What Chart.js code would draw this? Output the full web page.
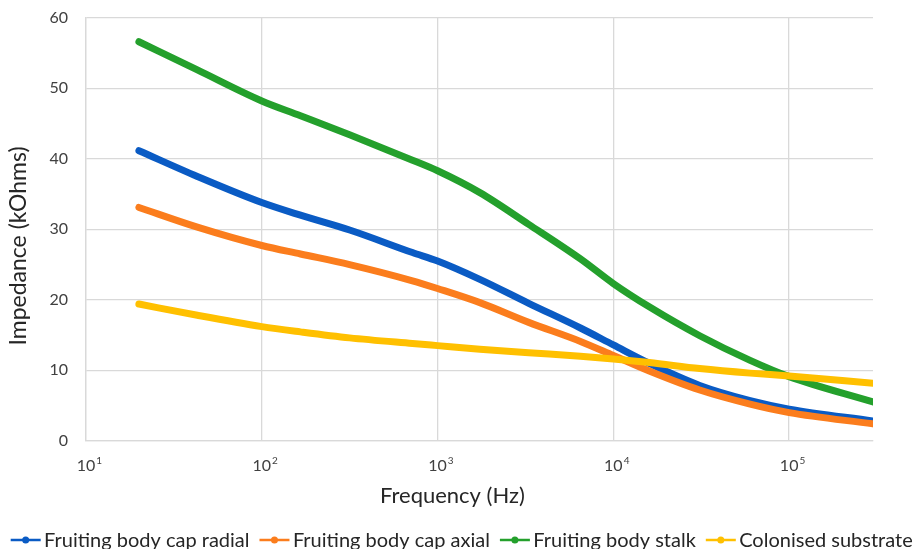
<!DOCTYPE html>
<html>
<head>
<meta charset="utf-8">
<script src="https://cdn.jsdelivr.net/npm/chart.js@4/dist/chart.umd.min.js"></script>
<style>
  html, body { margin: 0; padding: 0; background: #ffffff; }
  #wrap { width: 913px; height: 549px; }
</style>
</head>
<body>
<div id="wrap"><canvas id="chart" width="913" height="549"></canvas></div>
<script>
// Measured impedance spectra (kOhms) against excitation frequency (Hz)
const frequencyHz = [20, 43, 100, 166, 316, 720, 1000, 1740, 3300, 6500, 10000, 16000, 31000, 60000, 100000, 300000];
const capRadial   = [41.15, 37.5, 33.8, 32.0, 29.9, 26.7, 25.5, 22.9, 19.5, 16.0, 13.6, 11.0, 7.85, 5.7, 4.5, 2.8];
const capAxial    = [33.1, 30.3, 27.7, 26.5, 25.0, 22.7, 21.6, 19.6, 16.8, 14.1, 12.1, 9.9, 7.2, 5.2, 4.0, 2.4];
const stalk       = [56.6, 52.6, 48.2, 46.1, 43.4, 39.8, 38.3, 35.2, 30.7, 25.8, 22.3, 19.0, 14.9, 11.4, 9.1, 5.5];
const substrate   = [19.4, 17.8, 16.2, 15.45, 14.6, 13.8, 13.5, 13.0, 12.5, 12.0, 11.6, 11.1, 10.25, 9.6, 9.2, 8.15];

const seriesNames  = ['Fruiting body cap radial', 'Fruiting body cap axial', 'Fruiting body stalk', 'Colonised substrate'];
const seriesValues = [capRadial, capAxial, stalk, substrate];
const seriesColors = ['#0a5bc4', '#fb7d1d', '#24a02c', '#ffc000'];

const yTicks = [0, 10, 20, 30, 40, 50, 60];
const xTickExponents = [1, 2, 3, 4, 5];
const xAxisTitle = 'Frequency (Hz)';
const yAxisTitle = 'Impedance (kOhms)';

const FONT = 'Lato, "Open Sans", sans-serif';
const GRID = '#d9d9d9';
const TEXT = '#262626';

const datasets = seriesValues.map((vals, i) => ({
  label: seriesNames[i],
  data: frequencyHz.map((f, j) => ({ x: f, y: vals[j] })),
  borderColor: seriesColors[i],
  backgroundColor: seriesColors[i],
  borderWidth: 7,
  borderCapStyle: 'round',
  borderJoinStyle: 'round',
  pointRadius: 0,
  cubicInterpolationMode: 'monotone',
  fill: false,
  // later series are painted on top
  order: seriesValues.length - i
}));

// Axis titles, power-of-ten tick labels and the legend row
const decorations = {
  id: 'decorations',
  afterDraw(chart) {
    const ctx = chart.ctx;
    const xs = chart.scales.x;
    const area = chart.chartArea;
    ctx.save();

    // x tick labels: "10" with a raised exponent
    ctx.fillStyle = '#404040';
    ctx.textBaseline = 'alphabetic';
    ctx.textAlign = 'left';
    xTickExponents.forEach(e => {
      const px = xs.getPixelForValue(Math.pow(10, e));
      ctx.font = '16px ' + FONT;
      const w = ctx.measureText('10').width;
      ctx.fillText('10', px - w / 2, area.bottom + 30);
      ctx.font = '10px ' + FONT;
      ctx.fillText(String(e), px + w / 2 + 1, area.bottom + 23.5);
    });

    // axis titles
    ctx.fillStyle = TEXT;
    ctx.textAlign = 'center';
    ctx.font = '22px ' + FONT;
    ctx.fillText(xAxisTitle, 452.4, 503.3);

    ctx.save();
    ctx.font = '23px ' + FONT;
    ctx.translate(26, 246);
    ctx.rotate(-Math.PI / 2);
    ctx.fillText(yAxisTitle, 0, 0);
    ctx.restore();

    // legend
    ctx.font = '20px ' + FONT;
    const lineLen = 30, textGap = 3.4, itemGap = 10;
    const widths = seriesNames.map(n => ctx.measureText(n).width);
    const total = widths.reduce((a, b) => a + b, 0) + seriesNames.length * (lineLen + textGap) + (seriesNames.length - 1) * itemGap;
    let x = 461.7 - total / 2;
    const ly = 540, baseY = 546.7;
    ctx.textAlign = 'left';
    seriesNames.forEach((name, i) => {
      ctx.strokeStyle = seriesColors[i];
      ctx.fillStyle = seriesColors[i];
      ctx.lineWidth = 2.5;
      ctx.beginPath();
      ctx.moveTo(x, ly);
      ctx.lineTo(x + lineLen, ly);
      ctx.stroke();
      ctx.beginPath();
      ctx.arc(x + lineLen / 2, ly, 3.5, 0, Math.PI * 2);
      ctx.fill();
      ctx.fillStyle = TEXT;
      ctx.fillText(name, x + lineLen + textGap, baseY);
      x += lineLen + textGap + widths[i] + itemGap;
    });

    ctx.restore();
  }
};

new Chart(document.getElementById('chart'), {
  type: 'line',
  data: { datasets },
  plugins: [decorations],
  options: {
    responsive: false,
    devicePixelRatio: 1,
    animation: false,
    layout: { padding: { left: 0, top: 17.8, right: 40, bottom: 108.2 } },
    plugins: { legend: { display: false }, tooltip: { enabled: false } },
    scales: {
      x: {
        type: 'logarithmic',
        min: 10,
        max: 300000,
        afterBuildTicks: s => { s.ticks = xTickExponents.map(e => ({ value: Math.pow(10, e) })); },
        afterFit: s => { s.height = 0; },
        ticks: { display: false },
        grid: { color: GRID, lineWidth: 1.3, drawTicks: false },
        border: { color: GRID, width: 1.3 }
      },
      y: {
        min: 0,
        max: 60,
        afterBuildTicks: s => { s.ticks = yTicks.map(v => ({ value: v })); },
        afterFit: s => { s.width = 86; s.paddingTop = 0; s.paddingBottom = 0; },
        ticks: { color: '#404040', font: { family: FONT, size: 16 }, padding: 18 },
        grid: { color: GRID, lineWidth: 1.3, drawTicks: false },
        border: { color: GRID, width: 1.3 }
      }
    }
  }
});
</script>
</body>
</html>
